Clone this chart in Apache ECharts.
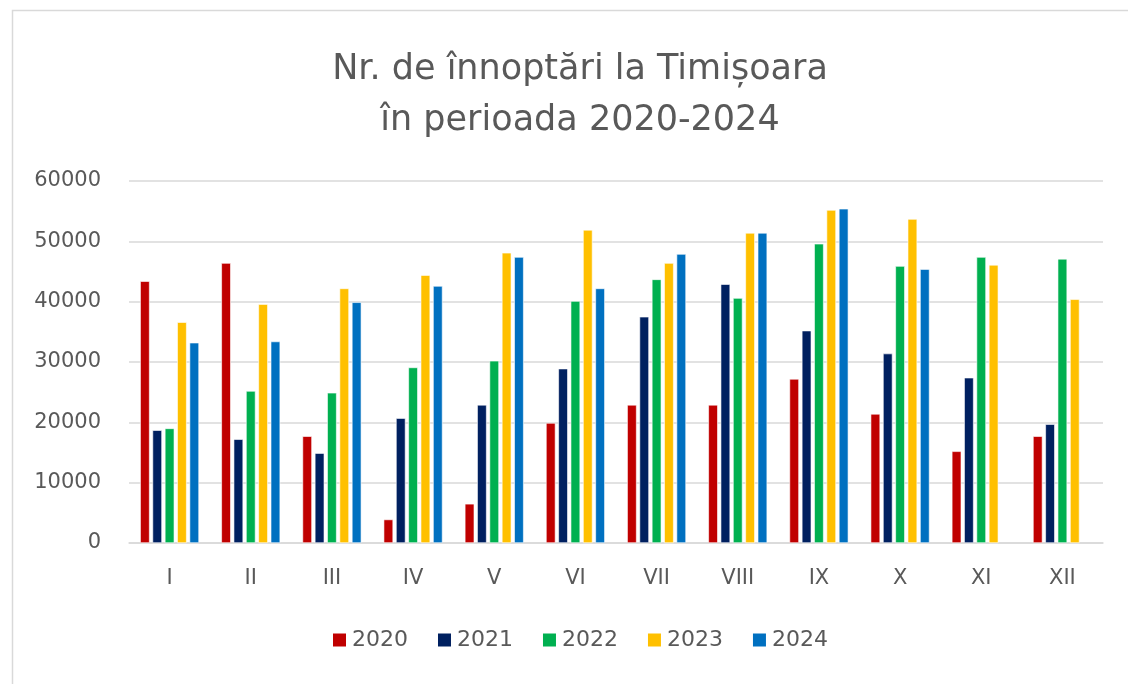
<!DOCTYPE html>
<html>
<head>
<meta charset="utf-8">
<script src="https://cdn.jsdelivr.net/npm/echarts@6/dist/echarts.min.js"></script>
<style>
  html, body { margin: 0; padding: 0; background: #fff; }
  #chart { width: 1128px; height: 684px; }
</style>
</head>
<body>
<div id="chart"></div>
<script>
// Months (Roman numerals) and yearly series
const months = ['I', 'II', 'III', 'IV', 'V', 'VI', 'VII', 'VIII', 'IX', 'X', 'XI', 'XII'];
const years = ['2020', '2021', '2022', '2023', '2024'];
const colors = ['#C00000', '#002060', '#00B050', '#FFC000', '#0070C0'];

const y2020 = [43400, 46400, 17700, 3900, 6500, 19900, 22900, 22900, 27200, 21400, 15200, 17700];
const y2021 = [18700, 17200, 14900, 20700, 22900, 28900, 37500, 42900, 35200, 31400, 27400, 19700];
const y2022 = [19000, 25200, 24900, 29100, 30200, 40100, 43700, 40600, 49600, 45900, 47400, 47100];
const y2023 = [36600, 39600, 42200, 44400, 48100, 51900, 46400, 51400, 55200, 53700, 46100, 40400];
const y2024 = [33200, 33400, 39900, 42600, 47400, 42200, 47900, 51400, 55400, 45400, null, null];

const values = [y2020, y2021, y2022, y2023, y2024];

const chart = echarts.init(document.getElementById('chart'));
const font = 'DejaVu Sans, sans-serif';

chart.setOption({
    animation: false,
    color: colors,
    textStyle: { fontFamily: font },
    title: {
        text: 'Nr. de înnoptări la Timișoara\nîn perioada 2020-2024',
        left: 575,
        textAlign: 'center',
        top: 39,
        textStyle: {
            fontFamily: font,
            fontSize: 35,
            fontWeight: 'normal',
            color: '#595959',
            lineHeight: 51
        }
    },
    graphic: [{
        type: 'rect',
        shape: { x: 12.5, y: 10.5, width: 1140, height: 700 },
        style: { fill: 'none', stroke: '#d9d9d9', lineWidth: 1.5 },
        silent: true
    }],
    legend: {
        bottom: 28,
        left: 326,
        itemWidth: 15,
        itemHeight: 15,
        itemGap: 28,
        icon: 'rect',
        textStyle: { fontFamily: font, fontSize: 22, color: '#595959' },
        data: years
    },
    grid: { left: 129, right: 25, top: 181, bottom: 141, containLabel: false },
    xAxis: {
        type: 'category',
        data: months,
        axisLine: { lineStyle: { color: '#d9d9d9', width: 1.5 } },
        axisTick: { show: false },
        axisLabel: { fontFamily: font, fontSize: 21, color: '#595959', margin: 25 }
    },
    yAxis: {
        type: 'value',
        min: 0,
        max: 60000,
        interval: 10000,
        axisLine: { show: false },
        axisTick: { show: false },
        axisLabel: {
            fontFamily: font, fontSize: 21, color: '#595959', margin: 28,
            formatter: v => String(v)
        },
        splitLine: { lineStyle: { color: '#d9d9d9', width: 1.5 } }
    },
    series: years.map((y, i) => ({
        name: y,
        type: 'bar',
        data: values[i],
        barWidth: 9.5,
        barGap: '30%',
        itemStyle: { color: colors[i], borderColor: '#ffffff', borderWidth: 0.6 }
    }))
});
</script>
</body>
</html>
